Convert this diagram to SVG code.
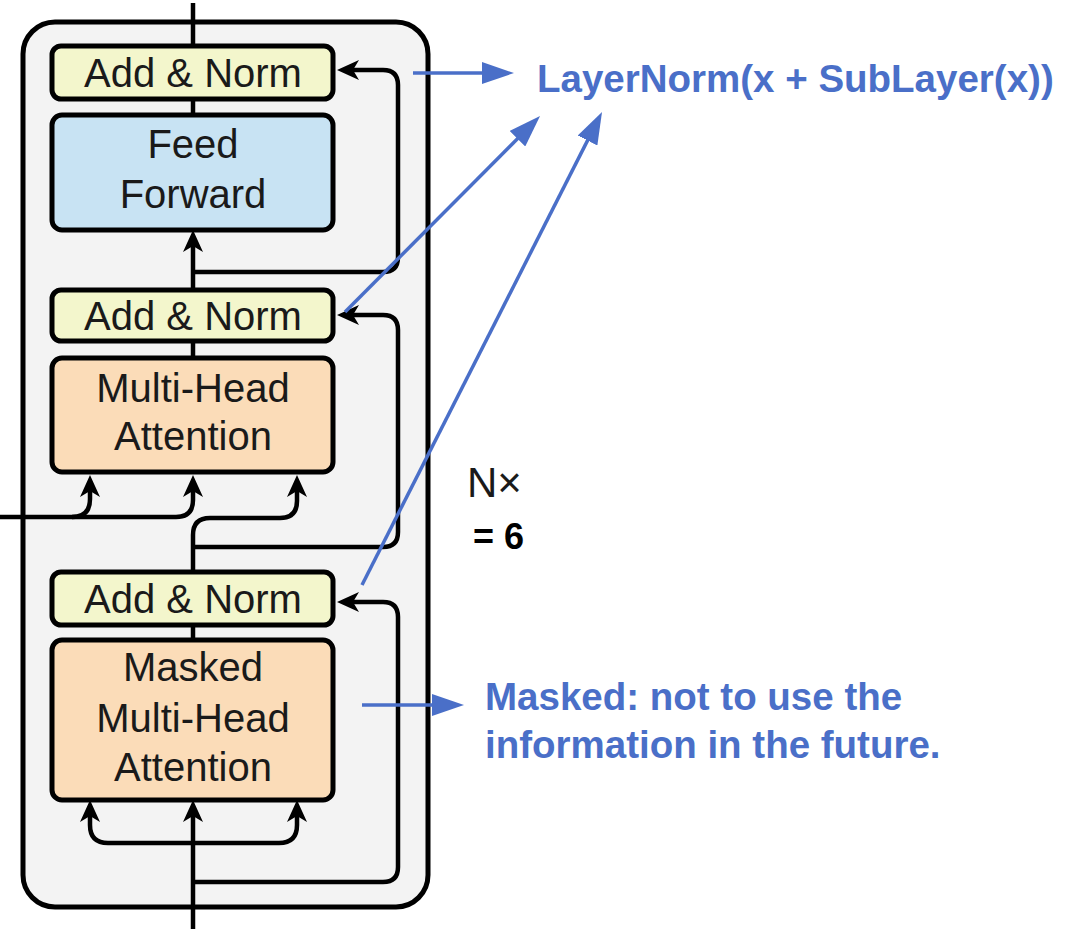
<svg xmlns="http://www.w3.org/2000/svg" width="1080" height="929" viewBox="0 0 1080 929">
<style>
.box{stroke:#000;stroke-width:5}
.an{fill:#f3f6cc}
.ff{fill:#c8e3f3}
.mh{fill:#fbdcb8}
.lbl{font-family:"Liberation Sans",Arial,sans-serif;font-size:40px;fill:#1a1a1a;text-anchor:middle}
.wire{fill:none;stroke:#000;stroke-width:4.5}
.blue{fill:none;stroke:#4a6fc8;stroke-width:3.5}
.note{font-family:"Liberation Sans",Arial,sans-serif;font-weight:bold;font-size:38.5px;fill:#4a6fc8}
</style>
<defs>
<marker id="ah" markerUnits="userSpaceOnUse" markerWidth="22" markerHeight="20" refX="14" refY="10" orient="auto">
<path d="M0,0 L22,10 L0,20 L6,10 z" fill="#000"/>
</marker>
<marker id="bh" markerUnits="userSpaceOnUse" markerWidth="32" markerHeight="22" refX="24" refY="11" orient="auto">
<path d="M0,0 L32,11 L0,22 z" fill="#4a6fc8"/>
</marker>
</defs>
<rect width="1080" height="929" fill="#fff"/>
<g id="decoder-stack">
<rect x="23" y="22" width="405" height="885" rx="32" fill="#f3f3f3" stroke="#000" stroke-width="5"/>
</g>
<g id="connectors">
<path class="wire" d="M193,3 V46"/>
<path class="wire" d="M193,99 V115"/>
<path class="wire" d="M193,290 V238" marker-end="url(#ah)"/>
<path class="wire" d="M193,272 H383 Q398,272 398,257 V85 Q398,70 383,70 H345" marker-end="url(#ah)"/>
<path class="wire" d="M193,341 V358"/>
<path class="wire" d="M193,572 V535 Q193,518 210,518 H280 Q297,518 297,501 V483" marker-end="url(#ah)"/>
<path class="wire" d="M193,547 H383 Q398,547 398,532 V330 Q398,315 383,315 H345" marker-end="url(#ah)"/>
<path class="wire" d="M0,517 H176 Q193,517 193,500 V483" marker-end="url(#ah)"/>
<path class="wire" d="M72,517 Q90,517 90,499 V483" marker-end="url(#ah)"/>
<path class="wire" d="M193,625 V640"/>
<path class="wire" d="M193,929 V808" marker-end="url(#ah)"/>
<path class="wire" d="M193,843 H108 Q90,843 90,825 V808" marker-end="url(#ah)"/>
<path class="wire" d="M193,843 H279 Q297,843 297,825 V808" marker-end="url(#ah)"/>
<path class="wire" d="M193,882 H383 Q398,882 398,867 V617 Q398,602 383,602 H345" marker-end="url(#ah)"/>
</g>
<g id="add-norm-3">
<rect class="box an" x="52" y="46" width="281" height="53" rx="9"/>
<text class="lbl" x="193" y="87">Add &amp; Norm</text>
</g>
<g id="feed-forward">
<rect class="box ff" x="52" y="115" width="281" height="115" rx="10"/>
<text class="lbl" x="193" y="158">Feed</text>
<text class="lbl" x="193" y="208">Forward</text>
</g>
<g id="add-norm-2">
<rect class="box an" x="52" y="290" width="281" height="51" rx="9"/>
<text class="lbl" x="193" y="330">Add &amp; Norm</text>
</g>
<g id="multi-head-attention">
<rect class="box mh" x="52" y="358" width="281" height="114" rx="10"/>
<text class="lbl" x="193" y="402">Multi-Head</text>
<text class="lbl" x="193" y="450">Attention</text>
</g>
<g id="add-norm-1">
<rect class="box an" x="52" y="572" width="281" height="53" rx="9"/>
<text class="lbl" x="193" y="613">Add &amp; Norm</text>
</g>
<g id="masked-multi-head-attention">
<rect class="box mh" x="52" y="640" width="281" height="160" rx="10"/>
<text class="lbl" x="193" y="681">Masked</text>
<text class="lbl" x="193" y="732">Multi-Head</text>
<text class="lbl" x="193" y="781">Attention</text>
</g>
<g id="repeat-label">
<text x="467" y="497" font-family="'Liberation Sans',Arial,sans-serif" font-size="42" fill="#1a1a1a">N×</text>
<text x="473" y="549" font-family="'Liberation Sans',Arial,sans-serif" font-size="36" font-weight="bold" fill="#000">= 6</text>
</g>
<g id="annotation-arrows">
<path class="blue" d="M413,73 H506" marker-end="url(#bh)"/>
<path class="blue" d="M345,312 L534.4,121.7" marker-end="url(#bh)"/>
<path class="blue" d="M362,585 L598.4,119.1" marker-end="url(#bh)"/>
<path class="blue" d="M362,705 H456" marker-end="url(#bh)"/>
</g>
<g id="layernorm-note">
<text class="note" x="537" y="92">LayerNorm(x + SubLayer(x))</text>
</g>
<g id="masked-note">
<text class="note" x="485" y="710">Masked: not to use the</text>
<text class="note" x="485" y="758">information in the future.</text>
</g>
</svg>
